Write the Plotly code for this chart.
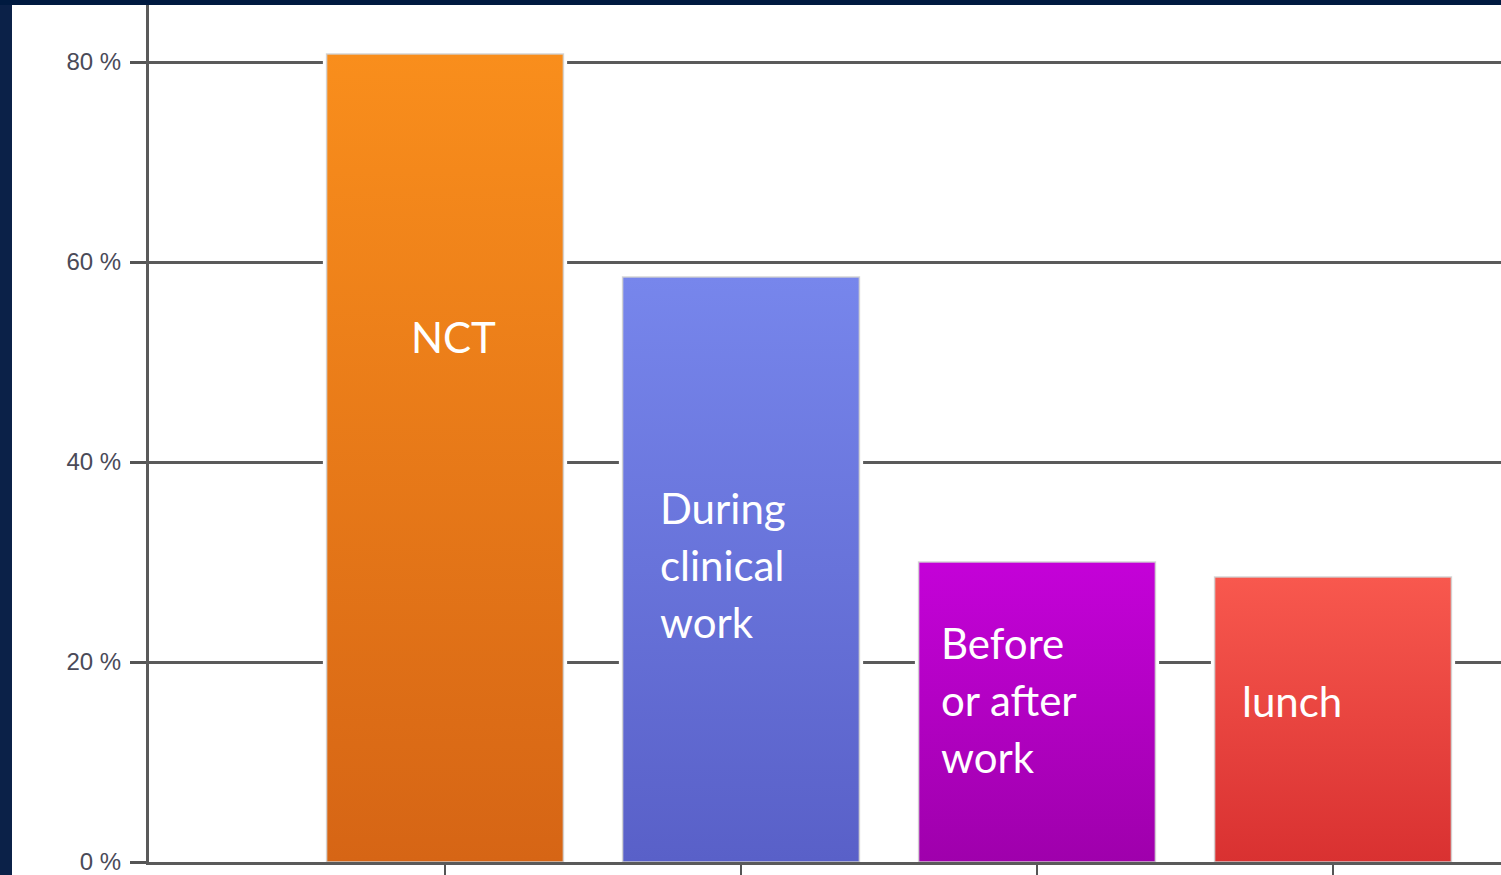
import plotly.graph_objects as go

# ---- data ----
categories = ["NCT", "During clinical work", "Before or after work", "lunch"]
values = [80.8, 58.5, 30.0, 28.5]
label_lines = [["NCT"], ["During", "clinical", "work"], ["Before", "or after", "work"], ["lunch"]]
y_tickvals = [0, 20, 40, 60, 80]
y_ticktext = ["0 %", "20 %", "40 %", "60 %", "80 %"]

# ---- styles ----
top_colors = ["#f98e1c", "#7786ec", "#c402d8", "#f8584e"]
bottom_colors = ["#d66515", "#5960c8", "#9f00ac", "#d93131"]
bar_w = 0.80
halo_w = 0.825
W, H = 1501, 875
ml, mr, mt, mb = 149, 0, 5, 13
px_per_unit_x = 296.0
x_max = (W - ml - mr) / px_per_unit_x
y_max = (H - mt - mb) / 10.0

positions = list(range(1, len(categories) + 1))

fig = go.Figure()

# white halo behind each bar (hides gridlines near bar edge)
fig.add_trace(go.Bar(
    x=positions, y=values, width=halo_w,
    marker=dict(color="white", line=dict(width=0)),
    hoverinfo="skip", showlegend=False,
))

# gradient-filled bars
for i, (p, v) in enumerate(zip(positions, values)):
    x0, x1 = p - bar_w / 2, p + bar_w / 2
    fig.add_trace(go.Scatter(
        x=[x0, x1, x1, x0, x0], y=[0, 0, v, v, 0],
        mode="lines", fill="toself",
        line=dict(color="rgba(210,210,210,0.9)", width=1.5),
        fillgradient=dict(type="vertical",
                          colorscale=[[0, bottom_colors[i]], [1, top_colors[i]]]),
        name=categories[i], hoverinfo="name", showlegend=False,
    ))

# in-bar labels (layout positions)
label_y = [52.5, 35.4, 21.9, 16.1]
label_xshift = [8, -83, -98, -93]
label_anchor = ["center", "left", "left", "left"]
line_step = 57
annotations = []
for i, lines in enumerate(label_lines):
    for k, t in enumerate(lines):
        annotations.append(dict(
            x=positions[i], y=label_y[i], xref="x", yref="y",
            text=t, showarrow=False,
            xanchor=label_anchor[i], yanchor="middle",
            xshift=label_xshift[i], yshift=-line_step * k,
            font=dict(family="Lato", size=42, color="white"),
        ))

navy = "#0b2148"
shapes = [
    # left navy strip
    dict(type="rect", xref="paper", yref="paper",
         x0=-ml / (W - ml), x1=(12 - ml) / (W - ml), y0=-mb / (H - mt - mb) - 0.01, y1=1 + mt / (H - mt - mb) + 0.01,
         fillcolor=navy, line=dict(width=0), layer="above"),
    # top navy strip
    dict(type="rect", xref="paper", yref="paper",
         x0=-ml / (W - ml), x1=1.01, y0=1, y1=1 + mt / (H - mt - mb) + 0.01,
         fillcolor="#001a40", line=dict(width=0), layer="above"),
]

fig.update_layout(
    width=W, height=H,
    margin=dict(l=ml, r=mr, t=mt, b=mb, pad=0),
    paper_bgcolor="white", plot_bgcolor="white",
    barmode="overlay", showlegend=False,
    annotations=annotations, shapes=shapes,
    xaxis=dict(range=[0, x_max], tickvals=positions, ticktext=[""] * len(positions),
               showticklabels=False, ticks="outside", ticklen=14, tickwidth=2, tickcolor="#555",
               showgrid=False, zeroline=False, showline=True, linecolor="#5a5a5a", linewidth=3,
               fixedrange=True),
    yaxis=dict(range=[0, y_max], tickvals=y_tickvals, ticktext=y_ticktext,
               ticks="outside", ticklen=16, tickwidth=2.5, tickcolor="#555",
               tickfont=dict(family="Liberation Sans", size=24, color="#4a4a58"),
               ticklabelstandoff=4, ticklabeloverflow="allow",
               showgrid=True, gridcolor="#5a5a5a", gridwidth=2.5,
               zeroline=False, showline=True, linecolor="#5a5a5a", linewidth=3,
               fixedrange=True),
)

fig.write_html(
    "out.html",
    config={"displayModeBar": False},
    post_script="document.body.style.margin='0';document.body.style.background='#0b2148';document.body.style.overflow='hidden';",
)
